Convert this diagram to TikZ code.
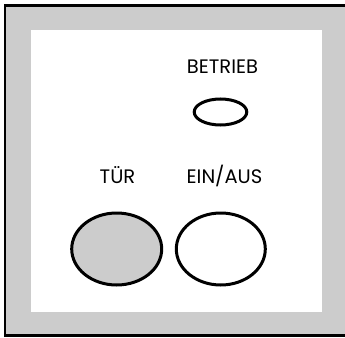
\documentclass[tikz,border=0pt]{standalone}
\usepackage{fontspec}
\setmainfont{Poppins}
\definecolor{panelgray}{HTML}{CCCCCC}
\tikzset{
  tag/.style={inner sep=0pt, font=\fontsize{19.5}{19.5}\selectfont},
  lamp/.style={line width=3pt, draw=black}
}
\begin{document}
\begin{tikzpicture}[x=1pt,y=-1pt]
	\useasboundingbox (0,0) rectangle (345,337);
	% housing and front plate
	\fill[panelgray] (5,5.3) rectangle (352,335.3);
	\draw[line width=2.8pt] (352,5.3) -- (5,5.3) -- (5,335.3) -- (352,335.3);
	\fill[white] (31,30) rectangle (321.7,311.7);
	% labels
	\node[tag] (betrieb) at (222.5,67) {BETRIEB};
	\node[tag] (tuer) at (117.5,175.5) {TÜR};
	\node[tag] (einaus) at (224.5,175.5) {EIN/AUS};
	% lamp and buttons
	\draw[lamp] (220.5,112) ellipse (26.3 and 13);
	\draw[lamp,fill=panelgray] (116.7,249) ellipse (45 and 36);
	\draw[lamp] (220.8,249) ellipse (44.5 and 36);
\end{tikzpicture}
\end{document}
